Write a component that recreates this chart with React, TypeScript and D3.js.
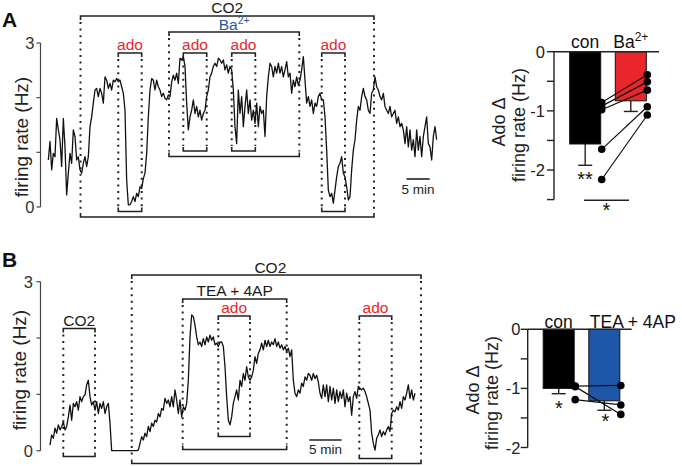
import React from 'react';
import * as d3 from 'd3';

const FONT = '"Liberation Sans", Arial, Helvetica, sans-serif';
const RED = '#e8262b';
const BLUE = '#1f57a8';
const INK = '#1a1a1a';

// ---------- Panel A trace (firing rate, Hz), one sample every DT_A minutes ----------
const DT_A = 0.36;
const traceA = [
  0.86, 1.2, 0.68, 0.98, 0.92, 1.62, 1.41, 1.23, 0.74, 1.62,
  1.1, 0.22, 0.62, 0.98, 0.8, 1.41, 1.29, 0.86, 0.92, 0.68,
  0.62, 0.8, 0.92, 0.74, 0.92, 1.47, 1.65, 1.9, 2.14, 2.17,
  2.02, 2.17, 2.08, 1.9, 2.38, 2.32, 2.17, 2.26, 2.14, 2.32,
  2.29, 2.35, 2.29, 2.32, 2.2, 2.08, 1.77, 0.49, 0.04, 0.04,
  0.1, 0.19, 0.1, 0.25, 0.19, 0.37, 0.34, 0.52, 0.62, 0.98,
  1.65, 2.14, 2.35, 2.32, 2.14, 2.32, 2.2, 2.14, 2.02, 2.08,
  1.99, 1.96, 2.05, 2.02, 2.29, 2.41,
  2.32, 2.45, 2.26, 2.72, 2.69, 2.75, 2.57, 1.9, 1.41, 1.65,
  1.77, 1.96, 1.71, 1.84, 1.65, 1.77, 1.59, 1.71, 1.77, 2.02,
  2.14, 2.38, 2.45, 2.57, 2.63, 2.57, 2.72, 2.69, 2.63, 2.69,
  2.51, 2.6, 2.45, 2.57, 2.51, 2.14, 1.47, 1.16, 2.14, 1.71,
  2.02, 1.47, 1.84, 2.14, 1.71, 1.96, 1.59, 1.77, 1.53, 1.9,
  1.47, 1.84, 1.71, 1.77, 1.29, 2.02, 2.38, 2.63, 2.57, 2.38,
  2.57, 2.45, 2.63, 2.45, 2.57, 2.38, 2.51, 2.66, 2.38, 2.45,
  2.08, 2.32, 2.2, 2.38, 2.23, 2.32, 2.51, 2.75,
  2.32, 1.9, 2.02, 1.84, 1.96, 1.71, 1.9, 1.84, 2.02, 2.08,
  1.96, 1.96, 1.65, 1.04, 0.31, 0.19, 0.25, 0.07, 0.31, 0.55,
  0.74, 0.8, 0.92, 0.62, 0.55, 0.37, 0.13, 0.19, 0.68, 1.04,
  1.23, 1.59, 1.84, 1.77, 2.02, 2.17, 2.02, 1.96, 1.77, 1.71,
  2.08, 2.14, 2.38, 2.2, 2.14, 2.02, 1.96, 2.08, 1.84, 1.77,
  1.71, 1.84, 1.65, 1.71, 1.77, 1.53, 1.65, 1.47, 1.53, 1.41,
  1.16, 1.47, 1.1, 1.41, 1.04, 1.23, 0.92, 1.41, 1.04, 1.29,
  0.92, 1.29, 1.47, 1.65, 1.16, 1.1, 0.86, 1.29, 1.47, 1.23,
];

// ---------- Panel B trace ----------
const DT_B = 0.258;
const traceB = [
  0.1, 0.28, 0.22, 0.4, 0.31, 0.46, 0.37, 0.43, 0.51, 0.37,
  0.43, 0.6, 0.81, 0.54, 0.84, 0.78, 0.87, 0.72, 0.96, 0.87,
  0.96, 0.99, 1.17, 1.25, 0.96, 0.81, 0.87, 0.72, 0.87, 0.66,
  0.84, 0.75, 0.87, 0.66, 0.78, 0.84, 0.49,
  0, 0, 0, 0, 0, 0, 0, 0, 0, 0, 0, 0, 0, 0, 0, 0,
  0.01, 0.13, 0.25, 0.19, 0.31, 0.25, 0.43, 0.34, 0.49, 0.43,
  0.54, 0.51, 0.66, 0.6, 0.75, 0.72, 0.93, 0.84, 0.9, 0.78,
  0.96, 0.78, 1.08, 0.9,
  0.66, 0.9, 0.6, 0.78, 0.72, 0.84, 1.25, 2.02, 2.41, 2.38,
  2.23, 2.02, 1.88, 1.93, 1.85, 1.99, 1.88, 2.02, 1.93, 2.05,
  1.96, 2.02, 1.88, 1.91, 1.85, 1.93, 1.93, 1.85, 1.49, 0.96,
  0.54, 0.46, 0.6, 0.84, 0.96, 1.08, 0.9, 1.25, 1.14, 1.37,
  1.25, 1.49, 1.31, 1.25, 1.31, 1.43, 1.67, 1.55, 1.73, 1.79,
  1.91, 1.79, 1.96, 1.85, 1.96, 1.85, 1.93, 1.88, 1.99, 1.85,
  1.93, 1.82, 1.88, 1.79, 1.85, 1.76, 1.82, 1.67, 1.79, 1.25,
  1.02, 0.96, 1.08, 1.02, 1.2, 1.14, 1.31, 1.25, 1.37,
  1.34, 1.25, 1.37, 1.28, 1.34, 1.22, 1.02, 0.93, 1.17, 0.96,
  1.17, 0.87, 1.14, 0.9, 1.11, 0.84, 1.08, 0.87, 1.05, 0.93,
  1.08, 0.78, 1.02, 0.87, 0.96, 0.63, 0.96, 1.05, 0.93, 1.14,
  1.11, 1.08, 1.11, 1.05, 0.96, 0.84, 0.72, 0.31, 0.13, 0.01,
  0.22, 0.28, 0.37, 0.25, 0.34, 0.28, 0.37, 0.43, 0.34, 0.66,
  0.72, 0.69, 0.78, 0.72, 0.87, 0.75, 0.96, 0.9, 1.02, 1.17,
  0.93, 1.08, 0.9, 1.02,
];

// ---------- Treatment periods (minutes) ----------
const periodNamesA = ['CO2', 'Ba', 'ado1', 'ado2', 'ado3', 'ado4'];
const periodStartA = [6.95, 26.06, 15.11, 29.15, 39.61, 59.05];
const periodEndA = [70.34, 54.21, 20.17, 34.21, 44.71, 64.08];
const scaleBarStartA = 77.37;

const periodNamesB = ['CO2s', 'CO2', 'TEA', 'ado1', 'ado2'];
const periodStartB = [2.06, 12.65, 20.54, 26.05, 47.88];
const periodEndB = [6.97, 57.43, 36.64, 30.96, 52.9];
const scaleBarStartB = 40.14;
const SCALE_MIN = 5;

// ---------- Bar summaries (Ado Δ firing rate, Hz) ----------
const barCatsA = ['con', 'Ba2+'];
const barMeanA = [-1.56, -0.83];
const barSemA = [0.36, 0.18];
const cellsConA = [-0.86, -0.92, -0.98, -1.65, -2.16];
const cellsBaA = [-0.39, -0.51, -0.65, -0.93, -1.07];

const barCatsB = ['con', 'TEA + 4AP'];
const barMeanB = [-1.0, -1.21];
const barSemB = [0.09, 0.16];
const cellsConB = [-0.96, -0.97, -1.19];
const cellsTeaB = [-0.95, -1.44, -1.28];

// ---------- layout (pixels) ----------
const bracketLayoutA: Record<string, any> = {
  CO2: { top: 16, bottom: 217, label: 'CO2', color: INK, ly: 13 },
  Ba: { top: 32, bottom: 156.5, label: 'Ba', sup: '2+', color: BLUE, ly: 29.5 },
  ado1: { top: 53, bottom: 211.5, label: 'ado', color: RED, ly: 50 },
  ado2: { top: 53, bottom: 151, label: 'ado', color: RED, ly: 50 },
  ado3: { top: 53, bottom: 151, label: 'ado', color: RED, ly: 50 },
  ado4: { top: 53, bottom: 211.5, label: 'ado', color: RED, ly: 50 },
};
const bracketLayoutB: Record<string, any> = {
  CO2s: { top: 328.5, bottom: 456.5, label: 'CO2', color: INK, ly: 326 },
  CO2: { top: 275, bottom: 463.5, label: 'CO2', color: INK, ly: 272.5, dx: -6 },
  TEA: { top: 299, bottom: 449.5, label: 'TEA + 4AP', color: INK, ly: 296 },
  ado1: { top: 316, bottom: 436.5, label: 'ado', color: RED, ly: 313 },
  ado2: { top: 316, bottom: 458.5, label: 'ado', color: RED, ly: 313 },
};

function Bracket({ x1, x2, top, bottom, label, sup, color, ly, dx = 0 }: any) {
  const s = '#222';
  return (
    <g>
      <path d={`M${x1},${top + 4}V${top}H${x2}V${top + 4}`} fill="none" stroke={s} strokeWidth={1.6} />
      <path d={`M${x1},${bottom - 4}V${bottom}H${x2}V${bottom - 4}`} fill="none" stroke={s} strokeWidth={1.6} />
      <line x1={x1} x2={x1} y1={top + 6} y2={bottom - 5} stroke={s} strokeWidth={2} strokeDasharray="2 4.6" />
      <line x1={x2} x2={x2} y1={top + 6} y2={bottom - 5} stroke={s} strokeWidth={2} strokeDasharray="2 4.6" />
      <text x={(x1 + x2) / 2 + dx} y={ly} textAnchor="middle" fontSize={15.5} fill={color} fontFamily={FONT}>
        {label}
        {sup ? <tspan dy={-6} fontSize={10.5}>{sup}</tspan> : null}
      </text>
    </g>
  );
}

function TracePanel({ trace, dt, xRange, yRange, names, starts, ends, layout, scaleStart, scaleY, scaleTextY, labelX, labelY, tickRight }: any) {
  const x = d3.scaleLinear().domain([0, (trace.length - 1) * dt]).range(xRange);
  const y = d3.scaleLinear().domain([0, 3]).range(yRange);
  const line = d3.line<number>().x((_, i) => x(i * dt)).y((d) => y(d));
  const axisX = 40.5;
  return (
    <g>
      <line x1={axisX} x2={axisX} y1={y(0)} y2={y(3)} stroke="#444" strokeWidth={1.2} />
      {y.ticks(3).map((t) => (
        <g key={t}>
          <line x1={axisX - 4} x2={axisX} y1={y(t)} y2={y(t)} stroke="#444" strokeWidth={1.2} />
          {t === 0 || t === 3 ? (
            <text x={tickRight} y={y(t) + 6} textAnchor="end" fontSize={16.5} fill="#333" fontFamily={FONT}>{t}</text>
          ) : null}
        </g>
      ))}
      <text transform={`translate(${labelX},${labelY}) rotate(-90)`} textAnchor="middle" fontSize={19} fill="#222" fontFamily={FONT}>
        firing rate (Hz)
      </text>
      {names.map((n: string, i: number) => (
        <Bracket key={n} x1={x(starts[i])} x2={x(ends[i])} {...layout[n]} />
      ))}
      <path d={line(trace) || ''} fill="none" stroke="#111" strokeWidth={1.3} strokeLinejoin="round" />
      <line x1={x(scaleStart)} x2={x(scaleStart + SCALE_MIN)} y1={scaleY} y2={scaleY} stroke="#222" strokeWidth={1.6} />
      <text x={(x(scaleStart) + x(scaleStart + SCALE_MIN)) / 2} y={scaleTextY} textAnchor="middle" fontSize={13.5} fill="#222" fontFamily={FONT}>
        {SCALE_MIN} min
      </text>
    </g>
  );
}

function BarPanel({ cats, means, sems, left, right, colors, yDomain, yRange, axisX, zeroEnd, bandRange, tickValues, labelIntegers, ylabX1, ylabX2, ylabY, catLabelY, tickRight, catAnchors }: any) {
  const y = d3.scaleLinear().domain(yDomain).range(yRange);
  const xb = d3.scaleBand().domain(cats).range(bandRange).paddingInner(0.32).paddingOuter(0.3);
  const bw = xb.bandwidth();
  const xL = (xb(cats[0]) as number) + bw + 1;
  const xR = (xb(cats[1]) as number) + bw + 1;
  return (
    <g fontFamily={FONT}>
      {cats.map((c: string, i: number) => {
        const bx = xb(c) as number;
        const cx = bx + bw / 2;
        const lo = y(means[i] - sems[i]);
        return (
          <g key={c}>
            <line x1={cx} x2={cx} y1={y(means[i])} y2={lo} stroke="#222" strokeWidth={1.4} />
            <line x1={cx - 7} x2={cx + 7} y1={lo} y2={lo} stroke="#222" strokeWidth={1.4} />
            <rect x={bx} y={y(0)} width={bw} height={y(means[i]) - y(0)} fill={colors[i]} stroke="#111" strokeWidth={1} />
          </g>
        );
      })}
      <line x1={axisX} x2={zeroEnd} y1={y(0)} y2={y(0)} stroke="#222" strokeWidth={1.4} />
      <line x1={axisX} x2={axisX} y1={y(0)} y2={y(yDomain[1])} stroke="#222" strokeWidth={1.4} />
      {tickValues.map((t: number) => (
        <g key={t}>
          <line x1={axisX - 7} x2={axisX} y1={y(t)} y2={y(t)} stroke="#222" strokeWidth={1.4} />
          {labelIntegers.includes(t) ? (
            <text x={tickRight} y={y(t) + 6} textAnchor="end" fontSize={16.5} fill="#222">{t === 0 ? '0' : String(t)}</text>
          ) : null}
        </g>
      ))}
      {left.map((v: number, i: number) => (
        <line key={'l' + i} x1={xL} x2={xR} y1={y(v)} y2={y(right[i])} stroke="#111" strokeWidth={1.2} />
      ))}
      {left.map((v: number, i: number) => (
        <circle key={'a' + i} cx={xL} cy={y(v)} r={3.8} fill="#000" />
      ))}
      {right.map((v: number, i: number) => (
        <circle key={'b' + i} cx={xR} cy={y(v)} r={3.8} fill="#000" />
      ))}
      <text transform={`translate(${ylabX1},${ylabY}) rotate(-90)`} textAnchor="middle" fontSize={18} fill="#222">Ado Δ</text>
      <text transform={`translate(${ylabX2},${ylabY + 3}) rotate(-90)`} textAnchor="middle" fontSize={18} fill="#222">firing rate (Hz)</text>
      {cats.map((c: string, i: number) => {
        const bx = xb(c) as number;
        const a = catAnchors[i];
        const tx = a === 'start' ? bx + 1 : bx + bw / 2;
        if (c === 'Ba2+') {
          return (
            <text key={'t' + c} x={tx} y={catLabelY} textAnchor="middle" fontSize={17.5} fill="#111">
              Ba<tspan dy={-7} fontSize={12}>2+</tspan>
            </text>
          );
        }
        return (
          <text key={'t' + c} x={tx} y={catLabelY} textAnchor={a} fontSize={17.5} fill="#111">{c}</text>
        );
      })}
    </g>
  );
}

export default function App() {
  const yBarA = d3.scaleLinear().domain([0, -2.5]).range([51.7, 199.6]);
  const yBarB = d3.scaleLinear().domain([0, -2]).range([329.3, 447.5]);
  return (
    <svg width={682} height={466} style={{ position: 'absolute', left: 0, top: 0, background: '#fff' }}>
      <rect width={682} height={466} fill="#fff" />
      <text x={2} y={27} fontSize={21} fontWeight="bold" fill="#111" fontFamily={FONT}>A</text>
      <text x={2} y={267} fontSize={21} fontWeight="bold" fill="#111" fontFamily={FONT}>B</text>

      <TracePanel
        trace={traceA} dt={DT_A} xRange={[48.33, 436.67]} yRange={[207, 43]}
        names={periodNamesA} starts={periodStartA} ends={periodEndA} layout={bracketLayoutA}
        scaleStart={scaleBarStartA} scaleY={179} scaleTextY={193.5}
        labelX={28} labelY={137} tickRight={34.5}
      />
      <TracePanel
        trace={traceB} dt={DT_B} xRange={[50, 415]} yRange={[450.7, 281.7]}
        names={periodNamesB} starts={periodStartB} ends={periodEndB} layout={bracketLayoutB}
        scaleStart={scaleBarStartB} scaleY={440} scaleTextY={453.5}
        labelX={26} labelY={370} tickRight={33}
      />

      <BarPanel
        cats={barCatsA} means={barMeanA} sems={barSemA} left={cellsConA} right={cellsBaA}
        colors={['#000', RED]} yDomain={[0, -2.5]} yRange={[51.7, 199.6]}
        axisX={554} zeroEnd={659} bandRange={[556, 660]}
        tickValues={[0, -0.5, -1, -1.5, -2, -2.5]} labelIntegers={[0, -1, -2]}
        ylabX1={505} ylabX2={525} ylabY={122} catLabelY={48} tickRight={545}
        catAnchors={['middle', 'middle']}
      />
      <text x={585} y={186} textAnchor="middle" fontSize={20} fill="#111" fontFamily={FONT}>**</text>
      <line x1={584} x2={629} y1={yBarA(-2.51)} y2={yBarA(-2.51)} stroke="#222" strokeWidth={1.4} />
      <text x={606.5} y={217} textAnchor="middle" fontSize={20} fill="#111" fontFamily={FONT}>*</text>

      <BarPanel
        cats={barCatsB} means={barMeanB} sems={barSemB} left={cellsConB} right={cellsTeaB}
        colors={['#000', BLUE]} yDomain={[0, -2]} yRange={[329.3, 447.5]}
        axisX={527.7} zeroEnd={631.7} bandRange={[529.5, 633.5]}
        tickValues={[0, -0.5, -1, -1.5, -2]} labelIntegers={[0, -1, -2]}
        ylabX1={479} ylabX2={498} ylabY={390} catLabelY={328} tickRight={520.5}
        catAnchors={['middle', 'start']}
      />
      <text x={559} y={yBarB(-1.3) + 9} textAnchor="middle" fontSize={20} fill="#111" fontFamily={FONT}>*</text>
      <text x={605.5} y={yBarB(-1.52) + 9} textAnchor="middle" fontSize={20} fill="#111" fontFamily={FONT}>*</text>
    </svg>
  );
}
